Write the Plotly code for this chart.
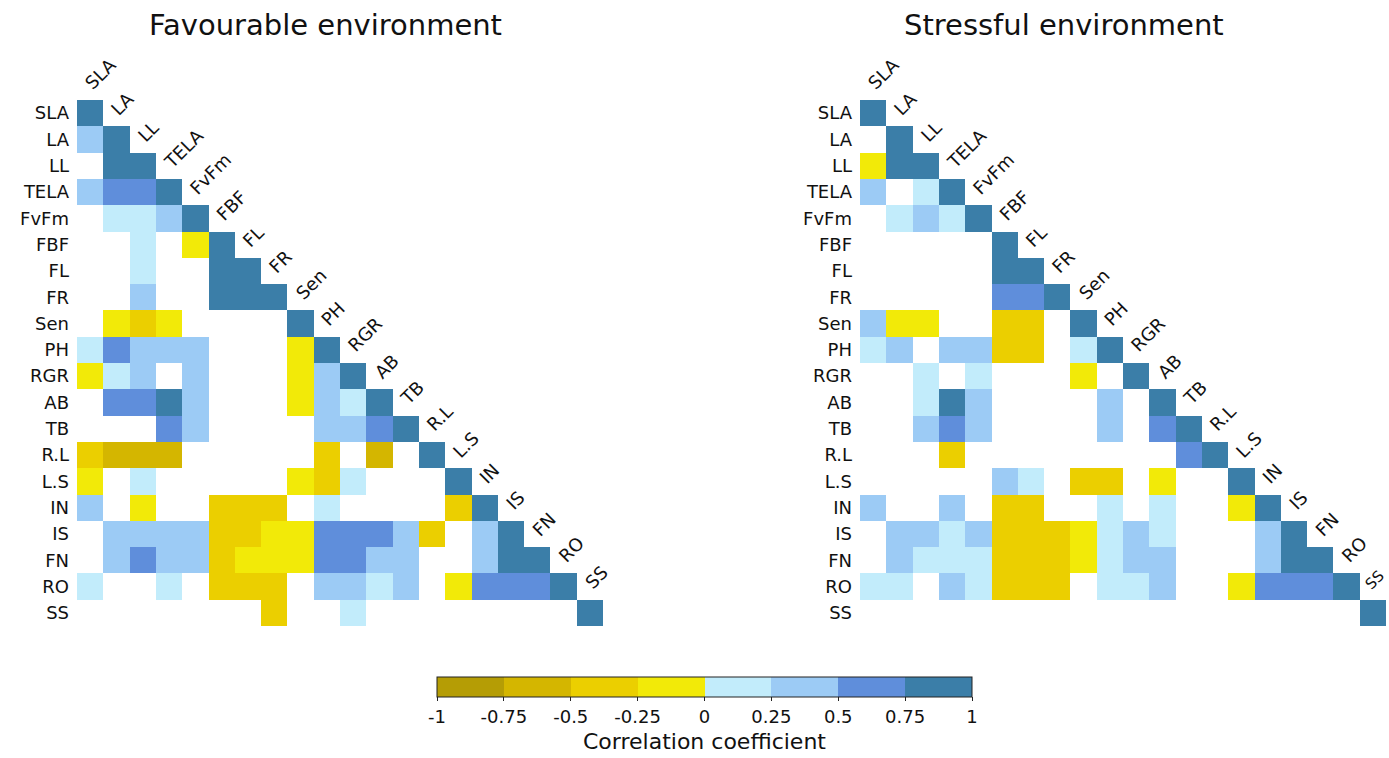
import plotly.graph_objects as go

N = None

variables = ["SLA", "LA", "LL", "TELA", "FvFm", "FBF", "FL", "FR", "Sen", "PH",
             "RGR", "AB", "TB", "R.L", "L.S", "IN", "IS", "FN", "RO", "SS"]

# lower-triangle correlation values (row i has i+1 entries), blank = not significant
favourable_rows = [
    [1],
    [0.4, 1],
    [N, 0.9, 1],
    [0.4, 0.6, 0.6, 1],
    [N, 0.15, 0.15, 0.4, 1],
    [N, N, 0.15, N, -0.15, 1],
    [N, N, 0.15, N, N, 0.9, 1],
    [N, N, 0.4, N, N, 0.9, 0.9, 1],
    [N, -0.15, -0.4, -0.15, N, N, N, N, 1],
    [0.15, 0.6, 0.4, 0.4, 0.4, N, N, N, -0.15, 1],
    [-0.15, 0.15, 0.4, N, 0.4, N, N, N, -0.15, 0.4, 1],
    [N, 0.6, 0.6, 0.9, 0.4, N, N, N, -0.15, 0.4, 0.15, 1],
    [N, N, N, 0.6, 0.4, N, N, N, N, 0.4, 0.4, 0.6, 1],
    [-0.4, -0.6, -0.6, -0.6, N, N, N, N, N, -0.4, N, -0.6, N, 1],
    [-0.15, N, 0.15, N, N, N, N, N, -0.15, -0.4, 0.15, N, N, N, 1],
    [0.4, N, -0.15, N, N, -0.4, -0.4, -0.4, N, 0.15, N, N, N, N, -0.4, 1],
    [N, 0.4, 0.4, 0.4, 0.4, -0.4, -0.4, -0.15, -0.15, 0.6, 0.6, 0.6, 0.4, -0.4, N, 0.4, 1],
    [N, 0.4, 0.6, 0.4, 0.4, -0.4, -0.15, -0.15, -0.15, 0.6, 0.6, 0.4, 0.4, N, N, 0.4, 0.9, 1],
    [0.15, N, N, 0.15, N, -0.4, -0.4, -0.4, N, 0.4, 0.4, 0.15, 0.4, N, -0.15, 0.6, 0.6, 0.6, 1],
    [N, N, N, N, N, N, N, -0.4, N, N, 0.15, N, N, N, N, N, N, N, N, 1],
]

stressful_rows = [
    [1],
    [N, 1],
    [-0.15, 0.9, 1],
    [0.4, N, 0.15, 1],
    [N, 0.15, 0.4, 0.15, 1],
    [N, N, N, N, N, 1],
    [N, N, N, N, N, 0.9, 1],
    [N, N, N, N, N, 0.6, 0.6, 1],
    [0.4, -0.15, -0.15, N, N, -0.4, -0.4, N, 1],
    [0.15, 0.4, N, 0.4, 0.4, -0.4, -0.4, N, 0.15, 1],
    [N, N, 0.15, N, 0.15, N, N, N, -0.15, N, 1],
    [N, N, 0.15, 0.9, 0.4, N, N, N, N, 0.4, N, 1],
    [N, N, 0.4, 0.6, 0.4, N, N, N, N, 0.4, N, 0.6, 1],
    [N, N, N, -0.4, N, N, N, N, N, N, N, N, 0.6, 1],
    [N, N, N, N, N, 0.4, 0.15, N, -0.4, -0.4, N, -0.15, N, N, 1],
    [0.4, N, N, 0.4, N, -0.4, -0.4, N, N, 0.15, N, 0.15, N, N, -0.15, 1],
    [N, 0.4, 0.4, 0.15, 0.4, -0.4, -0.4, -0.4, -0.15, 0.15, 0.4, 0.15, N, N, N, 0.4, 1],
    [N, 0.4, 0.15, 0.15, 0.15, -0.4, -0.4, -0.4, -0.15, 0.15, 0.4, 0.4, N, N, N, 0.4, 0.9, 1],
    [0.15, 0.15, N, 0.4, 0.15, -0.4, -0.4, -0.4, N, 0.15, 0.15, 0.4, N, N, -0.15, 0.6, 0.6, 0.6, 1],
    [N, N, N, N, N, N, N, N, N, N, N, N, N, N, N, N, N, N, N, 1],
]

bin_colors = ["#b59d05", "#d4b600", "#ebcf00", "#f2ea08",
              "#c2ecfb", "#9ccbf5", "#5f8edb", "#3b7ea8"]
colorbar_ticks = [-1, -0.75, -0.5, -0.25, 0, 0.25, 0.5, 0.75, 1]
colorbar_ticktext = ["-1", "-0.75", "-0.5", "-0.25", "0", "0.25", "0.5", "0.75", "1"]

FONT = "DejaVu Sans"
W, H = 1389, 758


def px_x(x):
    return x / W


def px_y(y):
    return 1 - y / H


def full_matrix(rows):
    n = len(rows)
    return [list(r) + [None] * (n - len(r)) for r in rows]


colorscale = []
nb = len(bin_colors)
for i, c in enumerate(bin_colors):
    colorscale.append([i / nb, c])
    colorscale.append([(i + 1) / nb, c])

idx = list(range(len(variables)))

fig = go.Figure()
fig.add_trace(go.Heatmap(z=full_matrix(favourable_rows), x=idx, y=idx,
                         coloraxis="coloraxis", xaxis="x", yaxis="y",
                         hoverongaps=False))
fig.add_trace(go.Heatmap(z=full_matrix(stressful_rows), x=idx, y=idx,
                         coloraxis="coloraxis", xaxis="x2", yaxis="y2",
                         hoverongaps=False))

left_dom = [px_x(77), px_x(603)]
right_dom = [px_x(860), px_x(1386)]
y_dom = [px_y(626), px_y(100)]

xcommon = dict(range=[-0.5, 19.5], showgrid=False, zeroline=False,
               showticklabels=False, ticks="", showline=False)
ycommon = dict(range=[19.5, -0.5], showgrid=False, zeroline=False,
               tickmode="array", tickvals=idx, ticktext=variables, ticks="",
               showline=False, ticklabelstandoff=7,
               tickfont=dict(family=FONT, size=18, color="#111111"))

annotations = []
last = len(variables) - 1
for ref in ("", "2"):
    for c, name in enumerate(variables):
        xs, ys, fs = 1, 4, 18
        if ref == "2" and c == last:
            # keep the final label inside the page edge
            xs, ys, fs = -1, 4, 15
        annotations.append(dict(
            x=c - 0.5, y=c - 0.5, xref="x" + ref, yref="y" + ref,
            text=name, showarrow=False, textangle=-45,
            xanchor="left", yanchor="bottom", xshift=xs, yshift=ys,
            font=dict(family=FONT, size=fs, color="#111111")))

annotations.append(dict(x=px_x(325), y=px_y(25), xref="paper", yref="paper",
                        text="Favourable environment", showarrow=False,
                        xanchor="center", yanchor="middle",
                        font=dict(family=FONT, size=29, color="#111111")))
annotations.append(dict(x=px_x(1064), y=px_y(25), xref="paper", yref="paper",
                        text="Stressful environment", showarrow=False,
                        xanchor="center", yanchor="middle",
                        font=dict(family=FONT, size=29, color="#111111")))

fig.update_layout(
    width=W, height=H,
    margin=dict(l=0, r=0, t=0, b=0),
    paper_bgcolor="white", plot_bgcolor="white",
    xaxis=dict(domain=left_dom, anchor="y", **xcommon),
    yaxis=dict(domain=y_dom, anchor="x", **ycommon),
    xaxis2=dict(domain=right_dom, anchor="y2", **xcommon),
    yaxis2=dict(domain=y_dom, anchor="x2", **ycommon),
    coloraxis=dict(
        colorscale=colorscale, cmin=-1, cmax=1,
        colorbar=dict(
            orientation="h", x=px_x((437 + 972) / 2), xanchor="center",
            y=px_y(677), yanchor="top", len=535 / W, lenmode="fraction",
            thickness=20, thicknessmode="pixels", xpad=0, ypad=0,
            outlinewidth=1, outlinecolor="#222222",
            tickmode="array", tickvals=colorbar_ticks, ticktext=colorbar_ticktext,
            ticks="outside", ticklen=4, tickcolor="#222222",
            tickfont=dict(family=FONT, size=18, color="#111111"),
            title=dict(text="Correlation coefficient", side="bottom",
                       font=dict(family=FONT, size=22, color="#111111")),
        ),
    ),
    annotations=annotations,
    showlegend=False,
)

fig.write_html("out.html",
               config={"displayModeBar": False},
               post_script="document.body.style.margin='0';"
                           "document.body.style.overflow='hidden';")
